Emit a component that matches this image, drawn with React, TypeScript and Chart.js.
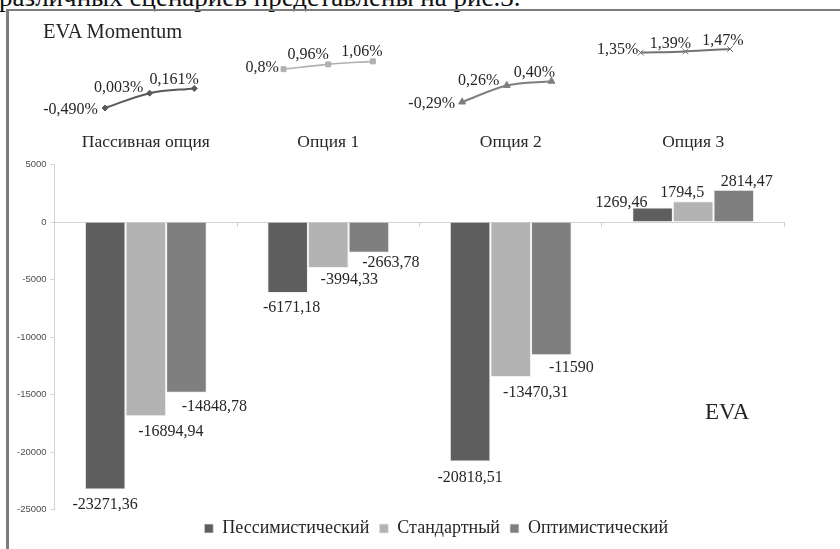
import React, { useEffect, useRef } from 'react';
import { Chart, registerables } from 'chart.js';

Chart.register(...registerables);

// Options compared
const categories = ['Пассивная опция', 'Опция 1', 'Опция 2', 'Опция 3'];
const scenarioNames = ['Пессимистический', 'Стандартный', 'Оптимистический'];

// EVA by option for each scenario
const evaPessimistic = [-23271.36, -6171.18, -20818.51, 1269.46];
const evaStandard = [-16894.94, -3994.33, -13470.31, 1794.5];
const evaOptimistic = [-14848.78, -2663.78, -11590, 2814.47];

const evaTicks = [5000, 0, -5000, -10000, -15000, -20000, -25000];

// EVA Momentum, % (pessimistic, standard, optimistic) per option
const momentumPassive = [-0.49, 0.003, 0.161];
const momentumOption1 = [0.8, 0.96, 1.06];
const momentumOption2 = [-0.29, 0.26, 0.4];
const momentumOption3 = [1.35, 1.39, 1.47];
const momentumDecimals = [
  [3, 3, 3],
  [1, 2, 2],
  [2, 2, 2],
  [2, 2, 2],
];

// ---- styling ----
const SERIF = '"Liberation Serif", "Times New Roman", serif';
const SANS = '"Liberation Sans", Arial, sans-serif';
const TEXT = '#262626';
const AXIS = '#d2d2d2';
const barColors = ['#5e5e5e', '#b3b3b3', '#7f7f7f'];

// label placement relative to the end of each bar: [dx, dy]
const barLabelNudge = [
  [[0, 15], [4, 15], [0, 16], [-31, -5]],
  [[25, 16], [21, 12], [25, 16], [-11, -9]],
  [[28, 14], [22, 10], [20, 13], [13, -8]],
];

const momentumStyles = [
  { color: '#595959', pointStyle: 'rectRot', radius: 3, width: 2 },
  { color: '#b0b0b0', pointStyle: 'rect', radius: 3.5, width: 1.6 },
  { color: '#7f7f7f', pointStyle: 'triangle', radius: 4, width: 2 },
  { color: '#737373', pointStyle: 'crossRot', radius: 4, width: 2 },
];

// label placement relative to each momentum point: [dx, dy]
const momentumLabelNudge = [
  [[-34.5, 2], [-31, -5], [-20, -9]],
  [[-21.5, -1], [-20, -10], [-11, -10]],
  [[-30.5, 2], [-28, -5], [-17, -8]],
  [[-23, -3], [-15, -8], [-7, -8]],
];

const fmtEva = (v: number) => String(v).replace('.', ',');
const fmtMomentum = (v: number, d: number) => v.toFixed(d).replace('.', ',') + '%';

const barValueLabels = {
  id: 'barValueLabels',
  afterDatasetsDraw(chart: any) {
    const ctx = chart.ctx;
    ctx.save();
    ctx.font = `16px ${SERIF}`;
    ctx.fillStyle = TEXT;
    ctx.textAlign = 'center';
    ctx.textBaseline = 'middle';
    chart.data.datasets.forEach((ds: any, i: number) => {
      const meta = chart.getDatasetMeta(i);
      meta.data.forEach((el: any, j: number) => {
        const [dx, dy] = barLabelNudge[i][j];
        ctx.fillText(fmtEva(ds.data[j]), el.x + dx, el.y + dy);
      });
    });
    ctx.restore();
  },
};

// moves the legend row to the right of the plot centre
const legendShift = {
  id: 'legendShift',
  afterLayout(chart: any) {
    const lg = chart.legend;
    if (lg) {
      lg.left += 44;
      lg.right += 44;
    }
  },
};

const momentumLabels = {
  id: 'momentumLabels',
  afterDatasetsDraw(chart: any) {
    const ctx = chart.ctx;
    ctx.save();
    ctx.font = `16px ${SERIF}`;
    ctx.fillStyle = TEXT;
    ctx.textAlign = 'center';
    ctx.textBaseline = 'middle';
    chart.data.datasets.forEach((ds: any, g: number) => {
      const meta = chart.getDatasetMeta(g);
      meta.data.forEach((el: any, s: number) => {
        const [dx, dy] = momentumLabelNudge[g][s];
        ctx.fillText(fmtMomentum(ds.data[s].y, momentumDecimals[g][s]), el.x + dx, el.y + dy);
      });
    });
    ctx.restore();
  },
};

export default function App() {
  const barRef = useRef<HTMLCanvasElement>(null);
  const lineRef = useRef<HTMLCanvasElement>(null);

  useEffect(() => {
    const evaSeries = [evaPessimistic, evaStandard, evaOptimistic];
    const bar = new Chart(barRef.current as HTMLCanvasElement, {
      type: 'bar',
      data: {
        labels: categories,
        datasets: evaSeries.map((data, i) => ({
          label: scenarioNames[i],
          data,
          backgroundColor: barColors[i],
          borderColor: 'rgba(235,235,235,0.7)',
          borderWidth: 1,
          categoryPercentage: 0.668,
          barPercentage: 1,
        })),
      },
      options: {
        animation: false,
        responsive: false,
        events: [],
        layout: { padding: { left: 0, right: 55.6, top: 0, bottom: 1.5 } },
        scales: {
          x: {
            type: 'category',
            position: { y: 0 } as any,
            offset: true,
            grid: { offset: true, drawOnChartArea: false, drawTicks: true, tickLength: 4, color: AXIS },
            border: { display: true, color: AXIS },
            ticks: { display: false },
          },
          xTop: {
            type: 'category',
            position: 'top',
            offset: true,
            grid: { display: false, drawTicks: false },
            border: { display: false },
            ticks: { padding: 12, color: TEXT, font: { family: SERIF, size: 17.5 } },
            afterFit: (s: any) => {
              s.height = 164.5;
            },
          },
          y: {
            min: Math.min(...evaTicks),
            max: Math.max(...evaTicks),
            afterBuildTicks: (s: any) => {
              s.ticks = evaTicks.map((value) => ({ value }));
            },
            grid: { drawOnChartArea: false, tickLength: 4, color: AXIS },
            border: { display: true, color: AXIS },
            ticks: {
              padding: 4,
              color: '#4d4d4d',
              font: { family: SANS, size: 9.5 },
              callback: (v: any) => String(v),
            },
            afterFit: (s: any) => {
              s.width = 54.6;
            },
          },
        } as any,
        plugins: {
          legend: {
            position: 'bottom',
            labels: {
              color: TEXT,
              font: { family: SERIF, size: 18 },
              boxWidth: 9,
              boxHeight: 9,
              padding: 10,
            },
          },
          tooltip: { enabled: false },
        },
      },
      plugins: [barValueLabels, legendShift],
    });

    const momentum = [momentumPassive, momentumOption1, momentumOption2, momentumOption3];
    const all = momentum.flat();
    const line = new Chart(lineRef.current as HTMLCanvasElement, {
      type: 'line',
      data: {
        datasets: momentum.map((vals, g) => ({
          label: categories[g],
          data: vals.map((v, s) => ({ x: g * 4 + s, y: v })),
          borderColor: momentumStyles[g].color,
          backgroundColor: momentumStyles[g].color,
          pointBorderColor: momentumStyles[g].color,
          pointStyle: momentumStyles[g].pointStyle as any,
          pointRadius: momentumStyles[g].radius,
          pointBorderWidth: 1,
          borderWidth: momentumStyles[g].width,
          cubicInterpolationMode: 'monotone',
          clip: false as any,
        })),
      },
      options: {
        animation: false,
        responsive: false,
        events: [],
        layout: { padding: { left: 105, right: 110, top: 49, bottom: 22 } },
        scales: {
          x: { type: 'linear', min: 0, max: momentum.length * 4 - 2, display: false },
          y: { min: Math.min(...all), max: Math.max(...all), display: false },
        },
        plugins: { legend: { display: false }, tooltip: { enabled: false } },
      },
      plugins: [momentumLabels],
    });

    return () => {
      bar.destroy();
      line.destroy();
    };
  }, []);

  return (
    <div
      style={{
        position: 'fixed',
        left: 0,
        top: 0,
        width: 840,
        height: 549,
        overflow: 'hidden',
        background: '#ffffff',
      }}
    >
      <div
        style={{
          position: 'absolute',
          left: -1,
          top: -16,
          fontFamily: SERIF,
          fontSize: 27,
          lineHeight: 1,
          color: '#111',
          whiteSpace: 'nowrap',
        }}
      >
        различных сценариев представлены на рис.3.
      </div>
      <div style={{ position: 'absolute', left: 6, top: 9, width: 834, height: 2, background: '#7d7d7d' }} />
      <div style={{ position: 'absolute', left: 6, top: 9, width: 2.5, height: 540, background: '#7d7d7d' }} />
      <canvas ref={barRef} width={840} height={549} style={{ position: 'absolute', left: 0, top: 0 }} />
      <canvas ref={lineRef} width={840} height={130} style={{ position: 'absolute', left: 0, top: 0 }} />
      <div
        style={{
          position: 'absolute',
          left: 43,
          top: 20.5,
          fontFamily: SERIF,
          fontSize: 20.5,
          lineHeight: 1,
          color: TEXT,
          whiteSpace: 'nowrap',
        }}
      >
        EVA Momentum
      </div>
      <div
        style={{
          position: 'absolute',
          left: 705,
          top: 400,
          fontFamily: SERIF,
          fontSize: 23,
          lineHeight: 1,
          color: TEXT,
          whiteSpace: 'nowrap',
        }}
      >
        EVA
      </div>
    </div>
  );
}
